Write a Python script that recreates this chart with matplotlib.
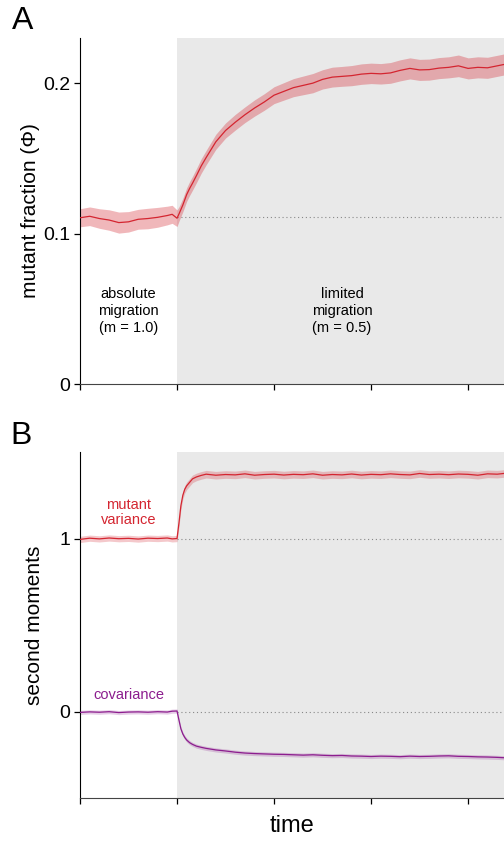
import numpy as np
import matplotlib
matplotlib.use("Agg")
from matplotlib import pyplot as plt

plt.rcParams['font.family'] = ['Liberation Sans', 'DejaVu Sans']

# time points (arbitrary units, switch of migration at t = 1)
t = [0, 0.1, 0.2, 0.3, 0.4, 0.5, 0.6, 0.7, 0.8, 0.9, 0.95, 1.0,
     1.02, 1.04, 1.06, 1.08, 1.1, 1.13, 1.16, 1.2, 1.25, 1.3, 1.4, 1.5,
     1.6, 1.7, 1.8, 1.9, 2.0, 2.1, 2.2, 2.3, 2.4, 2.5, 2.6, 2.7, 2.8, 2.9,
     3.0, 3.1, 3.2, 3.3, 3.4, 3.5, 3.6, 3.7, 3.8, 3.9, 4.0, 4.1, 4.2, 4.3, 4.4]

# panel A: mutant fraction
phi = [0.1105, 0.1115, 0.1100, 0.1090, 0.1073, 0.1078, 0.1095, 0.1100, 0.1108, 0.1120, 0.1128, 0.1102,
       0.1130, 0.1160, 0.1190, 0.1225, 0.1260, 0.1300, 0.1335, 0.1385, 0.1450, 0.1505, 0.1610, 0.1685,
       0.1740, 0.1790, 0.1835, 0.1875, 0.1920, 0.1945, 0.1970, 0.1985, 0.2000, 0.2025, 0.2040, 0.2045, 0.2050, 0.2060,
       0.2065, 0.2062, 0.2068, 0.2085, 0.2098, 0.2088, 0.2090, 0.2100, 0.2105, 0.2115, 0.2098, 0.2105, 0.2102, 0.2115, 0.2128]
phi_err = [0.0060, 0.0062, 0.0065, 0.0068, 0.0070, 0.0068, 0.0066, 0.0068, 0.0066, 0.0062, 0.0060, 0.0055,
           0.0048, 0.0046, 0.0045, 0.0045, 0.0045, 0.0046, 0.0046, 0.0047, 0.0048, 0.0048, 0.0050, 0.0050,
           0.0052, 0.0052, 0.0054, 0.0055, 0.0056, 0.0058, 0.0060, 0.0062, 0.0064, 0.0064, 0.0066, 0.0066, 0.0067, 0.0068,
           0.0068, 0.0068, 0.0069, 0.0070, 0.0070, 0.0070, 0.0070, 0.0070, 0.0070, 0.0072, 0.0070, 0.0070, 0.0070, 0.0070, 0.0070]
phi_ref = 0.111

# panel B: second moments
variance = [0.995, 1.002, 0.998, 1.003, 0.999, 1.001, 0.997, 1.002, 1.000, 1.003, 0.998, 1.000,
            1.090, 1.190, 1.250, 1.285, 1.305, 1.325, 1.345, 1.356, 1.365, 1.372, 1.366, 1.370,
            1.368, 1.374, 1.366, 1.370, 1.372, 1.367, 1.371, 1.369, 1.374, 1.366, 1.370, 1.368, 1.373, 1.367,
            1.371, 1.369, 1.374, 1.370, 1.368, 1.376, 1.370, 1.372, 1.369, 1.373, 1.371, 1.366, 1.374, 1.372, 1.378]
variance_err = [0.018] * 12 + [0.022] * 41
covariance = [-0.005, -0.002, -0.004, -0.001, -0.006, -0.003, -0.002, -0.004, -0.001, -0.003, 0.002, 0.003,
              -0.050, -0.100, -0.130, -0.150, -0.165, -0.180, -0.190, -0.200, -0.207, -0.213, -0.222, -0.228,
              -0.235, -0.240, -0.243, -0.245, -0.247, -0.248, -0.250, -0.252, -0.250, -0.253, -0.255, -0.254, -0.257, -0.258,
              -0.260, -0.258, -0.259, -0.261, -0.258, -0.260, -0.259, -0.257, -0.256, -0.259, -0.260, -0.262, -0.263, -0.265, -0.268]
covariance_err = [0.012] * 53
var_ref = 1.0
cov_ref = 0.0

switch_t = 1.0
x_end = 4.37
red = '#d42530'
purple = '#8c1d8e'
shade = '#e9e9e9'

fig = plt.figure(figsize=(5.04, 8.41), dpi=100)
axA = fig.add_axes([0.1587, 0.5434, 0.8413, 0.4114])
axB = fig.add_axes([0.1587, 0.0511, 0.8413, 0.4114])

for ax in (axA, axB):
    ax.axvspan(switch_t, x_end + 1, color=shade, lw=0, zorder=0)
    ax.spines['top'].set_visible(False)
    ax.spines['right'].set_visible(False)
    ax.spines['bottom'].set_color('#444444')
    ax.set_xlim(0, x_end)
    ax.set_xticks([0, 1, 2, 3, 4])
    ax.set_xticklabels([])
    ax.tick_params(direction='out', length=4, labelsize=14, width=0.9, pad=3)

tt = np.array(t)

# A
p = np.array(phi); pe = np.array(phi_err)
axA.fill_between(tt, p - pe, p + pe, color=red, alpha=0.33, lw=0, zorder=2)
axA.plot(tt, p, color=red, lw=0.9, zorder=3)
axA.plot([switch_t, x_end + 1], [phi_ref, phi_ref], ls=(0, (1, 2.5)), color='#888888', lw=0.8, zorder=1)
axA.set_ylim(0, 0.23)
axA.set_yticks([0, 0.1, 0.2])
axA.set_yticklabels(['0', '0.1', '0.2'])
axA.set_ylabel('mutant fraction (Φ)', fontsize=15, labelpad=2)
axA.text(0.5, 0.0485, 'absolute\nmigration\n(m = 1.0)', ha='center', va='center', fontsize=10.5, linespacing=1.25)
axA.text(2.7, 0.0485, 'limited\nmigration\n(m = 0.5)', ha='center', va='center', fontsize=10.5, linespacing=1.25)

# B
v = np.array(variance); ve = np.array(variance_err)
c = np.array(covariance); ce = np.array(covariance_err)
axB.fill_between(tt, v - ve, v + ve, color=red, alpha=0.25, lw=0, zorder=2)
axB.plot(tt, v, color=red, lw=0.9, zorder=3)
axB.fill_between(tt, c - ce, c + ce, color=purple, alpha=0.22, lw=0, zorder=2)
axB.plot(tt, c, color=purple, lw=0.9, zorder=3)
for r in (var_ref, cov_ref):
    axB.plot([switch_t, x_end + 1], [r, r], ls=(0, (1, 2.5)), color='#888888', lw=0.8, zorder=1)
axB.set_ylim(-0.5, 1.5)
axB.set_yticks([0, 1])
axB.set_ylabel('second moments', fontsize=15, labelpad=11)
axB.set_xlabel('time', fontsize=17, labelpad=5)
axB.text(0.5, 1.15, 'mutant\nvariance', ha='center', va='center', fontsize=10.5, color=red, linespacing=1.1)
axB.text(0.5, 0.095, 'covariance', ha='center', va='center', fontsize=10.5, color=purple)

fig.text(0.024, 0.975, 'A', fontsize=23, va='center', ha='left')
fig.text(0.020, 0.481, 'B', fontsize=23, va='center', ha='left')

fig.savefig('out.png', dpi=100)
